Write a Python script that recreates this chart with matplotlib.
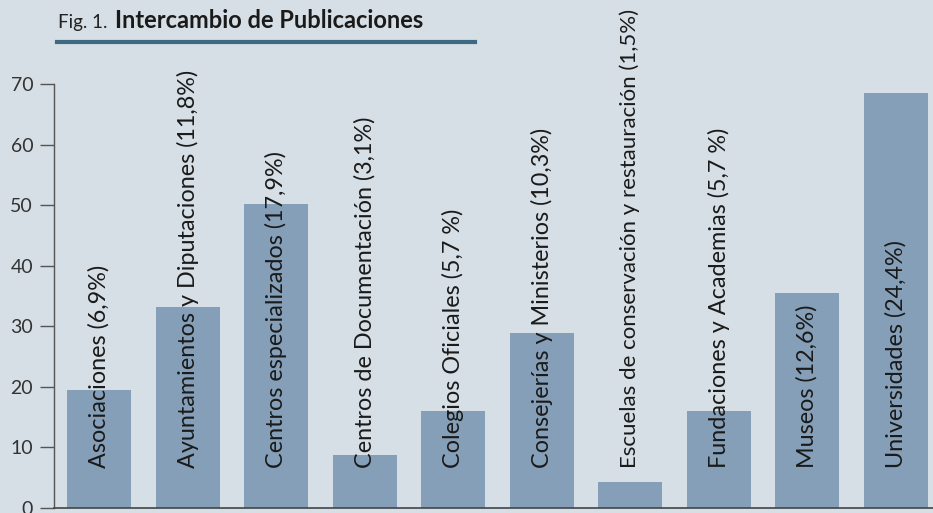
import matplotlib
matplotlib.use("Agg")
import matplotlib.pyplot as plt
from matplotlib.lines import Line2D

# data
categorias = [
    "Asociaciones (6,9%)",
    "Ayuntamientos y Diputaciones (11,8%)",
    "Centros especializados (17,9%)",
    "Centros de Documentación (3,1%)",
    "Colegios Oficiales (5,7 %)",
    "Consejerías y Ministerios (10,3%)",
    "Escuelas de conservación y restauración (1,5%)",
    "Fundaciones y Academias (5,7 %)",
    "Museos (12,6%)",
    "Universidades (24,4%)",
]
valores = [19.4, 33.2, 50.2, 8.7, 16.0, 28.9, 4.2, 16.0, 35.4, 68.5]
yticks = [0, 10, 20, 30, 40, 50, 60, 70]

bg = "#d6dfe5"
bar_color = "#869fb8"
text_color = "#1a1a1a"

plt.rcParams['font.family'] = ['Lato', 'DejaVu Sans']

fig = plt.figure(figsize=(9.33, 5.13), dpi=100, facecolor=bg)
ax = fig.add_axes([54 / 933, 5.3 / 513, 1 - 54 / 933, (507.7 - 84) / 513])
ax.set_facecolor(bg)

x = list(range(len(valores)))
ax.bar(x, valores, width=0.723, color=bar_color, zorder=2)

for i, lab in enumerate(categorias):
    fs = 16 if i == 6 else 16.8
    ax.text(i, 6.6, lab, rotation=90, ha='center', va='bottom',
            fontsize=fs, color=text_color, zorder=3)

ax.set_xlim(-0.508, 9.42)
ax.set_ylim(0, 70)
ax.set_xticks([])
ax.set_yticks(yticks)
ax.set_yticklabels([str(t) for t in yticks], fontsize=14, color="#333333")
ax.tick_params(axis='y', length=10, width=1, color="#555555", pad=5)

for s in ['top', 'right']:
    ax.spines[s].set_visible(False)
ax.spines['left'].set_color("#555555")
ax.spines['bottom'].set_color("#444444")
ax.spines['left'].set_linewidth(1)
ax.spines['bottom'].set_linewidth(1.2)

# title
fig.text(58 / 933, 1 - 28 / 513, "Fig. 1.", fontsize=13.5, color="#222222",
         va='baseline')
fig.text(115 / 933, 1 - 28 / 513, "Intercambio de Publicaciones", fontsize=17,
         color=text_color, fontweight='bold', va='baseline')
fig.add_artist(Line2D([57 / 933, 475 / 933], [1 - 42 / 513, 1 - 42 / 513],
                      transform=fig.transFigure, color="#3d6a82", linewidth=3))

fig.savefig("out.png", dpi=100, facecolor=bg)
